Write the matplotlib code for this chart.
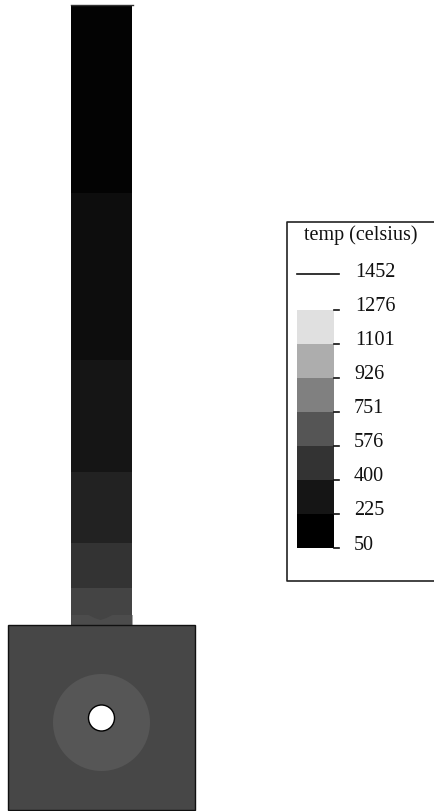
import numpy as np
import matplotlib
matplotlib.use("Agg")
import matplotlib.pyplot as plt
from matplotlib.colors import ListedColormap, BoundaryNorm
from matplotlib.patches import Circle, Rectangle

plt.rcParams['font.family'] = ['Liberation Serif', 'DejaVu Sans']

# legend levels, top to bottom
levels = [1452, 1276, 1101, 926, 751, 576, 400, 225, 50]
# grey of each filled band in the legend, lowest first
band_greys = ['#000000', '#151515', '#333333', '#555555', '#808080', '#adadad', '#e0e0e0']

# stem bands, y edges in image pixels and the grey
stem_edges = [5, 193, 360, 472, 543, 588, 625]
stem_greys = ['#030303', '#0d0d0d', '#151515', '#222222', '#333333', '#444444']
# lighter cap at the stem foot, its dipped top edge
foot_x = [71, 88, 94, 100, 106, 112, 132]
foot_y = [615, 615, 618, 620, 618, 615, 615]

block_grey = '#474747'
ring_grey = '#565656'

fig = plt.figure(figsize=(4.34, 8.12), dpi=100)
ax = fig.add_axes([0, 0, 1, 1])
ax.set_xlim(0, 434)
ax.set_ylim(811.5, -0.5)
ax.axis('off')

# stem
cm_stem = ListedColormap(stem_greys)
ax.pcolormesh([71, 132], stem_edges, np.arange(len(stem_greys)).reshape(-1, 1), cmap=cm_stem)
ax.fill_between(foot_x, foot_y, 625, color='#4c4c4c', lw=0)
ax.plot([71, 133], [5, 5], color='#333333', lw=1)

# block with the hole
ax.add_patch(Rectangle((8, 625), 187, 185.5, fc=block_grey, ec='#111111', lw=1))
ax.add_patch(Circle((101.5, 723), 48.5, fc=ring_grey, ec='none'))
ax.add_patch(Circle((101.5, 718.5), 13, fc='white', ec='black', lw=1))

# legend frame, open on the right
ax.plot([434, 287, 287, 434], [222, 222, 581, 581], color='#222222', lw=1.2)
ax.text(361, 234.5, 'temp (celsius)', ha='center', va='center', fontsize=14.5, color='#111111')

# legend colour bar
edges = np.linspace(548, 310, len(band_greys) + 1)
cm = ListedColormap(band_greys)
norm = BoundaryNorm(np.arange(len(band_greys) + 1), cm.N)
ax.pcolormesh([297, 334], edges, np.arange(len(band_greys)).reshape(-1, 1), cmap=cm, norm=norm)

# top level is drawn as a line, the others as ticks
label_y = [272, 306, 340, 374, 408, 442, 476, 510, 545]
label_x = [355, 355, 355, 354, 354, 354, 354, 354, 354]
ax.plot([297, 339], [274, 274], color='#111111', lw=1.2)
for i, e in enumerate(edges):
    ax.plot([334, 339], [e, e], color='#111111', lw=1.2)
for lev, x, y in zip(levels, label_x, label_y):
    ax.text(x, y, str(lev), ha='left', va='center', fontsize=14.5, color='#111111')

fig.savefig('out.png', dpi=100)
